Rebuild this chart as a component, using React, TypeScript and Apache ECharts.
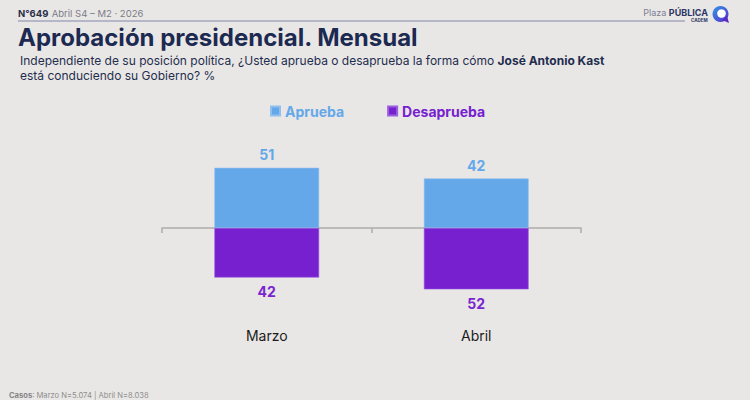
import React, { useEffect, useRef } from "react";
import * as echarts from "echarts";

const categories = ["Marzo", "Abril"];
const aprueba = [51, 42];
const desaprueba = [42, 52];
const seriesNames = ["Aprueba", "Desaprueba"];

const BLUE = "#64a8ea";
const PURPLE = "#7620d0";
const FONT = "Inter, 'Open Sans', sans-serif";

export default function App() {
  const ref = useRef<HTMLDivElement>(null);
  useEffect(() => {
    document.body.style.margin = "0";
    document.body.style.background = "#e9e7e5";
    const chart = echarts.init(ref.current!, null, { renderer: "svg" });
    chart.setOption({
      animation: false,
      backgroundColor: "#e9e7e5",
      textStyle: { fontFamily: FONT },
      grid: { left: 162, right: 169, top: 110, bottom: 54, containLabel: false, outerBoundsMode: "none" },
      legend: {
        left: 270,
        top: 104,
        padding: 0,
        icon: "rect",
        itemWidth: 9,
        itemHeight: 9,
        itemGap: 43,
        textStyle: { fontSize: 14, fontWeight: "bold", fontFamily: FONT },
        data: [
          { name: seriesNames[0], textStyle: { color: BLUE } },
          { name: seriesNames[1], textStyle: { color: PURPLE } },
        ],
      },
      xAxis: [
        {
          type: "category",
          data: categories,
          axisLine: { onZero: true, lineStyle: { color: "#aeaca9", width: 1.5 } },
          axisTick: { show: true, length: 5, lineStyle: { color: "#aeaca9", width: 1.5 } },
          axisLabel: { show: false },
        },
        {
          type: "category",
          data: categories,
          position: "bottom",
          axisLine: { show: false, onZero: false },
          axisTick: { show: false },
          axisLabel: { margin: -18, color: "#1b1b1b", fontSize: 14, fontFamily: FONT },
        },
      ],
      yAxis: { type: "value", min: -100, max: 100, show: false, splitLine: { show: false } },
      series: [
        {
          name: seriesNames[0],
          type: "bar",
          stack: "total",
          barWidth: "50%",
          xAxisIndex: 0,
          data: aprueba,
          itemStyle: { color: BLUE, borderColor: "#8fc0f0", borderWidth: 0.6 },
          label: {
            show: true,
            position: "top",
            distance: 6,
            color: BLUE,
            fontSize: 14,
            fontWeight: "bold",
            fontFamily: FONT,
          },
        },
        {
          name: seriesNames[1],
          type: "bar",
          stack: "total",
          barWidth: "50%",
          xAxisIndex: 0,
          data: desaprueba.map((v) => -v),
          itemStyle: { color: PURPLE, borderColor: "#9a5ee0", borderWidth: 0.6 },
          label: {
            show: true,
            position: "bottom",
            distance: 7,
            color: "#7a25cf",
            fontSize: 14,
            fontWeight: "bold",
            fontFamily: FONT,
            formatter: (p: any) => String(Math.abs(p.value)),
          },
        },
      ],
      graphic: [
        {
          type: "text",
          left: 18,
          top: 7,
          style: {
            text: "{b|N°649} {g|Abril S4 – M2 · 2026}",
            rich: {
              b: { fontSize: 9.5, fontWeight: "bold", fill: "#2a2f4a", fontFamily: FONT },
              g: { fontSize: 9.5, fill: "#7a7c88", fontFamily: FONT },
            },
          },
        },
        {
          type: "line",
          shape: { x1: 18, y1: 21, x2: 685, y2: 21 },
          style: { stroke: "#a3a6bd", lineWidth: 1.5 },
        },
        {
          type: "text",
          right: 42,
          top: 8,
          style: {
            text: "{r|Plaza }{b|PÚBLICA}",
            rich: {
              r: { fontSize: 9, fill: "#7b7f95", fontFamily: FONT },
              b: { fontSize: 9, fontWeight: "bold", fill: "#2c3566", fontFamily: FONT },
            },
          },
        },
        {
          type: "text",
          x: 691,
          y: 18,
          style: { text: "CADEM", fontSize: 4.5, fontWeight: "bold", fill: "#2c3566", fontFamily: FONT },
        },
        {
          type: "circle",
          shape: { cx: 720.5, cy: 14, r: 8 },
          style: {
            fill: new echarts.graphic.LinearGradient(0, 0, 1, 1, [
              { offset: 0, color: "#2f9ae8" },
              { offset: 1, color: "#5b2bc8" },
            ]),
          },
        },
        {
          type: "polygon",
          shape: { points: [[722, 20], [729, 23], [727, 16]] },
          style: { fill: "#5b2bc8" },
        },
        {
          type: "circle",
          shape: { cx: 721.5, cy: 13.5, r: 4.3 },
          style: { fill: "#ffffff" },
        },
        {
          type: "text",
          x: 18,
          y: 25,
          style: {
            text: "Aprobación presidencial. Mensual",
            fontSize: 24,
            fontWeight: "bold",
            fill: "#1c2a52",
            fontFamily: FONT,
          },
        },
        {
          type: "text",
          x: 20,
          y: 53,
          style: {
            text:
              "{n|Independiente de su posición política, ¿Usted aprueba o desaprueba la forma cómo }{b|José Antonio Kast}\n{n|está conduciendo su Gobierno? %}",
            rich: {
              n: { fontSize: 12, fill: "#1f2d4f", fontFamily: FONT, lineHeight: 15 },
              b: { fontSize: 12, fontWeight: "bold", fill: "#1f2d4f", fontFamily: FONT, lineHeight: 15 },
            },
          },
        },
        {
          type: "text",
          x: 9,
          y: 391,
          style: {
            text: "{b|Casos}{n|: Marzo N=5.074 | Abril N=8.038}",
            rich: {
              b: { fontSize: 7.6, fontWeight: "bold", fill: "#858585", fontFamily: FONT },
              n: { fontSize: 7.6, fill: "#8e8e8e", fontFamily: FONT },
            },
          },
        },
      ],
    });
    return () => chart.dispose();
  }, []);
  return <div ref={ref} style={{ position: "fixed", left: 0, top: 0, width: 750, height: 400 }} />;
}
